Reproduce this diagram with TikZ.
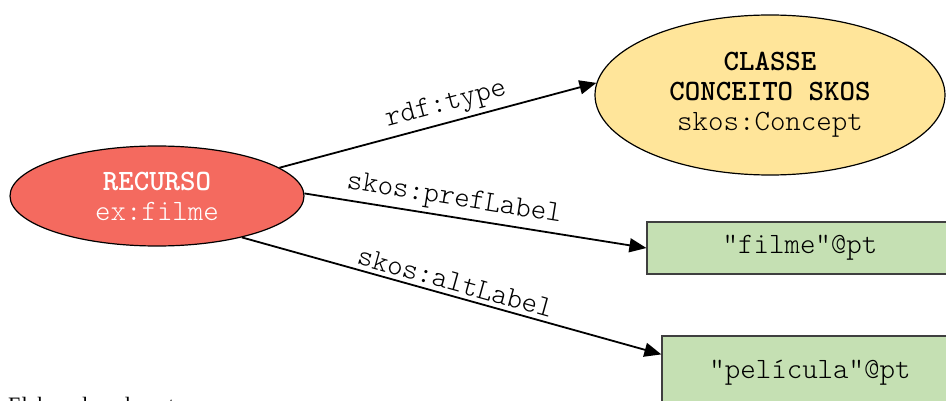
\documentclass[tikz,border=0pt]{standalone}
\usepackage{fontspec}
\setmainfont{Liberation Serif}
\setmonofont{lmmonolt10-regular.otf}[BoldFont=lmmonolt10-bold.otf]
\usetikzlibrary{arrows.meta,shapes.geometric}

\definecolor{resred}{HTML}{F46A5F}
\definecolor{classyellow}{HTML}{FFE59A}
\definecolor{litgreen}{HTML}{C5E0B3}
\definecolor{boxedge}{HTML}{3F3F3F}

\tikzset{
  mono/.style={font=\ttfamily\fontsize{29.5}{30}\selectfont},
  resource/.style={ellipse, draw=black, line width=1.2pt, fill=resred,
    inner sep=0pt, minimum width=294pt, minimum height=100pt,
    align=center, text=white, mono},
  classnode/.style={ellipse, draw=black, line width=1.2pt, fill=classyellow,
    inner sep=0pt, minimum width=350pt, minimum height=160pt,
    align=center, mono},
  literal/.style={rectangle, draw=boxedge, line width=1.2pt, fill=litgreen,
    inner sep=0pt, align=center, mono},
  rel/.style={line width=1.8pt, -{Triangle[length=17pt,width=14pt]}},
  rellabel/.style={sloped, above=4pt, inner sep=0pt, mono}
}

\begin{document}
\begin{tikzpicture}[x=1pt, y=-1pt]
  \useasboundingbox (0,0) rectangle (946,401);

  % nodes
  \node[resource] (res) at (157,196) {\textbf{RECURSO}\\ex:filme};
  \node[classnode] (cls) at (770,95)
    {\textbf{CLASSE}\\\textbf{CONCEITO SKOS}\\skos:Concept};
  \node[literal, minimum width=306pt, minimum height=52pt] (pref) at (800,248)
    {"filme"@pt};
  \node[literal, minimum width=296pt, minimum height=74pt] (alt) at (810,373)
    {\raisebox{3pt}{"película”@pt}};

  % properties
  \draw[rel] (res.13) -- node[rellabel, pos=0.54] {rdf:type} (cls.176);
  \draw[rel] (res.1) -- node[rellabel, pos=0.43] {skos:prefLabel} (pref.west);
  \draw[rel] (res.-26) -- node[rellabel, pos=0.5] {skos:altLabel}
    ([yshift=-19pt]alt.north west);

  % source note
  \node[anchor=base west, inner sep=0pt, font=\fontsize{22}{26}\selectfont]
    (note) at (8,412) {Elaborado pelo autor};
\end{tikzpicture}
\end{document}
